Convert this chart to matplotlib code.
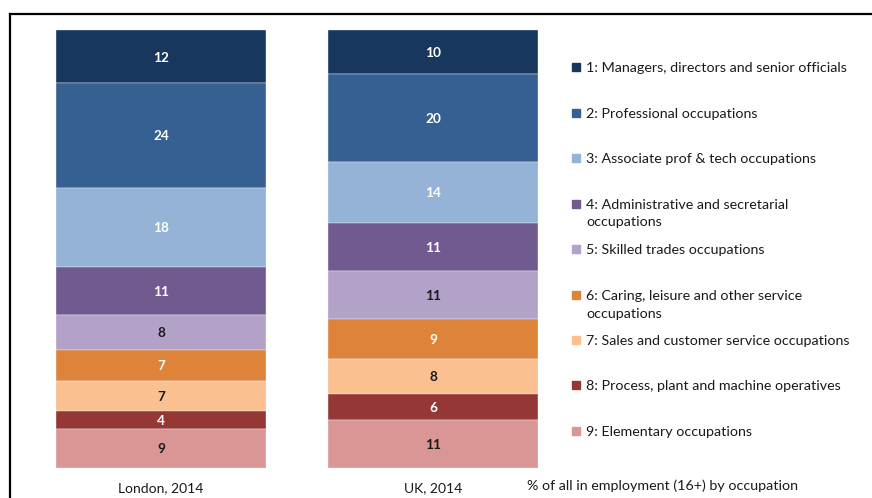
import matplotlib
matplotlib.use("Agg")
import matplotlib.pyplot as plt
from matplotlib.patches import Rectangle
from matplotlib.lines import Line2D

plt.rcParams['font.family'] = ['Lato', 'DejaVu Sans']

groups = ["London, 2014", "UK, 2014"]
occupations = [
    "1: Managers, directors and senior officials",
    "2: Professional occupations",
    "3: Associate prof & tech occupations",
    "4: Administrative and secretarial\noccupations",
    "5: Skilled trades occupations",
    "6: Caring, leisure and other service\noccupations",
    "7: Sales and customer service occupations",
    "8: Process, plant and machine operatives",
    "9: Elementary occupations",
]
london = [12, 24, 18, 11, 8, 7, 7, 4, 9]
uk = [10, 20, 14, 11, 11, 9, 8, 6, 11]
colors = ["#17375E", "#366092", "#95B3D7", "#705A8F", "#B3A2C7",
          "#DE843A", "#FAC090", "#953735", "#D99694"]
label_colors = ["white", "white", "white", "white", "#1a1a1a",
                "white", "#1a1a1a", "white", "#1a1a1a"]
footnote = "% of all in employment (16+) by occupation"

W, H = 872, 498
fig = plt.figure(figsize=(W / 100, H / 100), dpi=100)

# axes placement in pixels
left, right, top, bottom = 56, 538, 30.5, 468
ax = fig.add_axes([left / W, 1 - bottom / H, (right - left) / W, (bottom - top) / H])
bw = 0.772
ax.set_xlim(-bw / 2, 1 + bw / 2)
ax.set_ylim(0, 100)
ax.axis("off")

series = [london, uk]
for gi, vals in enumerate(series):
    cum = 100.0
    for k, v in enumerate(vals):
        cum -= v
        ax.bar(gi, v, bottom=cum, width=bw, color=colors[k], edgecolor="#e8ecf2",
               linewidth=0.3)
        ax.text(gi, cum + v / 2, f"{v}", ha="center", va="center_baseline",
                color=label_colors[k], fontsize=9.8, fontweight="bold")
    ax.text(gi, -4.6, groups[gi], ha="center", va="center", fontsize=10,
            color="#1a1a1a", clip_on=False)

# legend
ys = [67, 113, 158, 203.5, 249, 295, 340, 385, 431]
for k, name in enumerate(occupations):
    y = ys[k]
    fig.patches.append(Rectangle((572 / W, 1 - (y + 4) / H), 8 / W, 8 / H,
                                 transform=fig.transFigure, color=colors[k]))
    fig.text(586 / W, 1 - (y - 5) / H, name, ha="left", va="top", fontsize=10.3,
             color="#1a1a1a", linespacing=1.55)

fig.text(527 / W, 1 - 486 / H, footnote, ha="left", va="center", fontsize=10.3,
         color="#1a1a1a")

# frame
fig.add_artist(Line2D([10 / W, 1], [1 - 14 / H, 1 - 14 / H], color="black", lw=1.6,
                      transform=fig.transFigure))
fig.add_artist(Line2D([10 / W, 10 / W], [1 - 14 / H, 0], color="black", lw=1.6,
                      transform=fig.transFigure))

fig.savefig("out.png", dpi=100)
